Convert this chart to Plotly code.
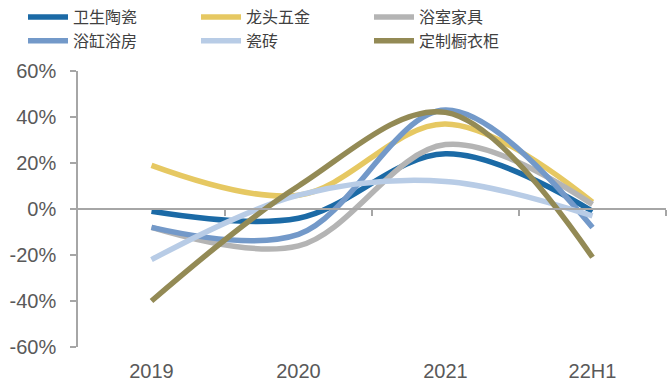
import plotly.graph_objects as go

categories = ["2019", "2020", "2021", "22H1"]
series_names = ["卫生陶瓷", "龙头五金", "浴室家具", "浴缸浴房", "瓷砖", "定制橱衣柜"]
v_sanitary = [-1, -4, 24, -1]
v_faucet = [19, 6, 37, 3]
v_bathfurn = [-8, -16, 28, 2]
v_bathtub = [-8, -11, 43, -8]
v_tile = [-22, 6, 12, -3]
v_cabinet = [-40, 10, 42, -21]
colors = ["#1B6AA6", "#E6C862", "#B4B4B4", "#7399C9", "#B8CCE6", "#938A55"]
ytickvals = [-60, -40, -20, 0, 20, 40, 60]
yticktext = [f"{v}%" for v in ytickvals]

all_vals = [v_sanitary, v_faucet, v_bathfurn, v_bathtub, v_tile, v_cabinet]

fig = go.Figure()
for name, vals, c in zip(series_names, all_vals, colors):
    fig.add_trace(go.Scatter(
        x=categories, y=vals, name=name, mode="lines",
        line=dict(color=c, width=5.5, shape="spline", smoothing=1.0),
    ))

# invisible trace carrying the zero-line axis with boundary ticks
fig.add_trace(go.Scatter(x=[-0.5, 3.5], y=[0, 0], xaxis="x2", mode="none",
                         showlegend=False, hoverinfo="skip"))

axis_gray = "#A6A6A6"
fig.update_layout(
    width=669, height=387,
    margin=dict(l=78, r=3, t=71, b=40),
    paper_bgcolor="white", plot_bgcolor="white",
    font=dict(family="Liberation Sans, Arial, sans-serif", size=20, color="#595959"),
    xaxis=dict(type="category", categoryarray=categories, range=[-0.5, 3.5],
               showline=False, showgrid=False, zeroline=False, ticks="",
               ticklabelstandoff=10,
               tickfont=dict(size=20, color="#595959")),
    xaxis2=dict(overlaying="x", anchor="free", position=0.5, range=[-0.5, 3.5],
                showline=True, linecolor=axis_gray, linewidth=1.5,
                ticks="outside", ticklen=6, tickcolor=axis_gray, tickwidth=1.5,
                tickvals=[0.5, 1.5, 2.5, 3.5], showticklabels=False,
                showgrid=False, zeroline=False),
    yaxis=dict(range=[-60, 60], tickvals=ytickvals, ticktext=yticktext,
               showline=True, linecolor=axis_gray, linewidth=1.5,
               ticks="outside", ticklen=6, tickcolor=axis_gray, tickwidth=1.5,
               showgrid=False, zeroline=False, ticklabelstandoff=10,
               tickfont=dict(size=20, color="#595959")),
    legend=dict(orientation="h", xref="container", yref="container",
                x=23 / 669, y=1.0, xanchor="left", yanchor="top",
                entrywidth=118, entrywidthmode="pixels",
                font=dict(family="Noto Sans CJK SC", size=16, color="#404040"),
                tracegroupgap=0, itemwidth=40, bgcolor="rgba(0,0,0,0)"),
    showlegend=True,
)

fig.write_html("out.html")
